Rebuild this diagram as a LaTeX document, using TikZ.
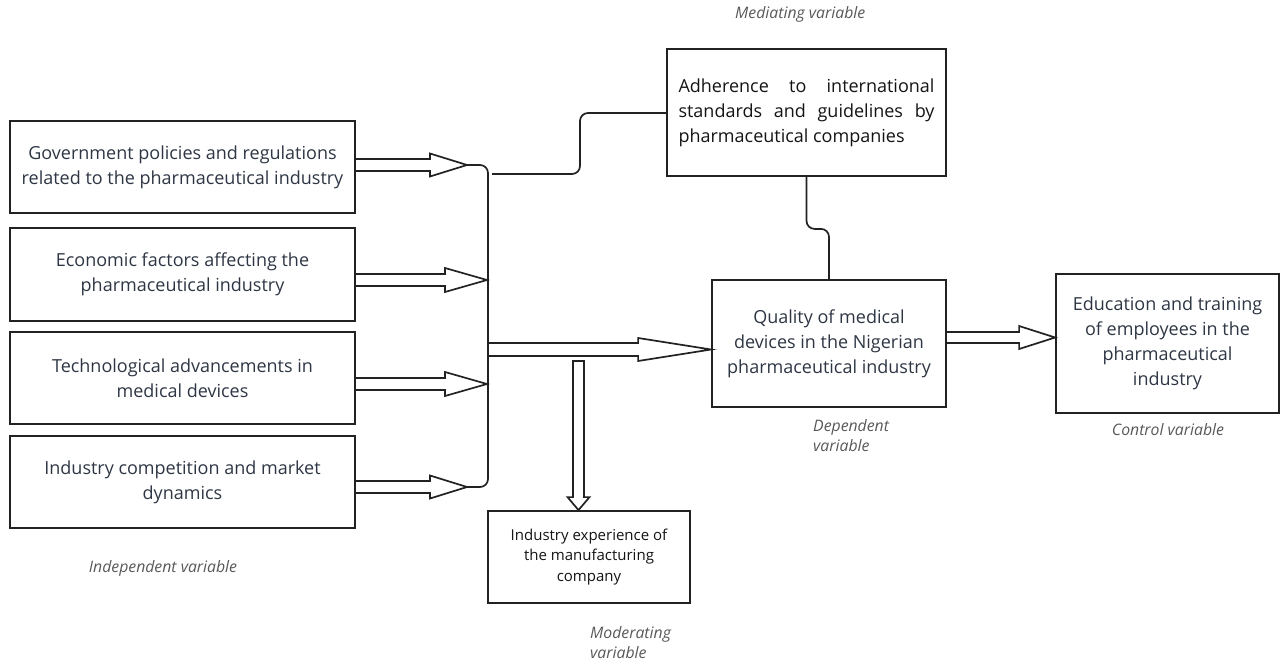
\documentclass[tikz,border=0pt]{standalone}
\usepackage{fontspec}
\setmainfont{Open Sans}
\usetikzlibrary{calc}
\definecolor{txt}{RGB}{46,54,68}
\definecolor{blk}{RGB}{20,20,20}
\definecolor{lbl}{RGB}{88,88,88}
\definecolor{ln}{RGB}{34,34,34}
\newcommand\harrow[5]{%
  \draw[arrline] let \p1=(#1), \p2=(#2) in
    (\x1,\y1+#3) -- (\x2-#4,\y1+#3) -- (\x2-#4,\y1+#5) -- (\x2,\y1)
    -- (\x2-#4,\y1-#5) -- (\x2-#4,\y1-#3) -- (\x1,\y1-#3);}
\begin{document}
\begin{tikzpicture}[x=1pt,y=-1pt,
  box/.style={draw=ln,line width=1.8pt,inner sep=0pt,align=center,font=\fontsize{18}{25}\selectfont,text=txt},
  arrline/.style={draw=ln,line width=1.7pt,line join=miter},
  conn/.style={draw=ln,line width=1.7pt,rounded corners=8pt},
  lab/.style={font=\fontsize{15.8}{20.5}\selectfont\itshape,text=lbl,inner sep=0pt,align=left}]
\useasboundingbox (0,0) rectangle (1281,666);

\node[box,minimum width=345pt,minimum height=92pt] (g1) at (182.5,167) {Government policies and regulations\\related to the pharmaceutical industry};
\node[box,minimum width=345pt,minimum height=93pt] (g2) at (182.5,274.5) {Economic factors affecting the\\pharmaceutical industry};
\node[box,minimum width=345pt,minimum height=92pt] (g3) at (182.5,378) {Technological advancements in\\medical devices};
\node[box,minimum width=345pt,minimum height=92pt] (g4) at (182.5,482) {Industry competition and market\\dynamics};

\node[box,minimum width=279pt,minimum height=127pt,text=blk,align=justify,text width=256pt] (adh) at (806.5,112.5)
  {\hyphenpenalty=10000 Adherence to international\linebreak standards and guidelines by\linebreak pharmaceutical companies};
\node[box,minimum width=234pt,minimum height=127pt] (qual) at (829,343.5) {Quality of medical\\devices in the Nigerian\\pharmaceutical industry};
\node[box,minimum width=223pt,minimum height=139pt] (edu) at (1167.5,343.5) {Education and training\\of employees in the\\pharmaceutical\\industry};
\node[box,minimum width=202pt,minimum height=92pt,text=blk,font=\fontsize{15}{20.5}\selectfont] (exp) at (589,557) {Industry experience of\\the manufacturing\\company};

% labels
\node[lab,anchor=west] (lmed) at (735,14) {Mediating variable};
\node[lab,anchor=north west] (ldep) at (813,419) {Dependent\\variable};
\node[lab] (lctl) at (1168,430) {Control variable};
\node[lab] (lind) at (163,568) {Independent variable};
\node[lab,anchor=north west] (lmod) at (590,626) {Moderating\\variable};

% bus
\coordinate (bt) at (467,165);
\coordinate (bb) at (467,487);
\coordinate (busx) at (487,0);
\draw[conn] (bt) -- (488,165) -- (488,487) -- (bb);

% input arrows
\harrow{g1.east |- bt}{bt}{6pt}{37pt}{11.5pt}
\coordinate (s2) at ($(g2.east)+(0,5.5)$);
\coordinate (s3) at ($(g3.east)+(0,6)$);
\harrow{s2}{busx |- s2}{6pt}{42pt}{12pt}
\harrow{s3}{busx |- s3}{6pt}{42pt}{12pt}
\harrow{g4.east |- bb}{bb}{6pt}{37pt}{11.5pt}

% main arrow
\coordinate (ms) at (488,349.5);
\harrow{ms}{qual.west |- ms}{6.5pt}{73pt}{11.5pt}

% right arrow
\coordinate (rs) at ($(qual.east)+(0,-6)$);
\harrow{rs}{edu.west |- rs}{5.5pt}{36pt}{11.5pt}

% down arrow
\coordinate (ds) at (578.5,361);
\draw[arrline] let \p1=(ds), \p2=(exp.north -| ds) in
  (\x1+5.5pt,\y1) -- (\x1-5.5pt,\y1) -- (\x1-5.5pt,\y2+13pt) -- (\x1-11pt,\y2+13pt)
  -- (\x2,\y2) -- (\x1+11pt,\y2+13pt) -- (\x1+5.5pt,\y2+13pt) -- cycle;

% connectors to mediator
\coordinate (m1) at (492,174);
\draw[conn] (m1) -- (580,174) -- (580,113) -- (adh.west |- 0,113);
\draw[conn] (adh.south) -- ($(adh.south)+(0,52)$) -- ($(adh.south)+(22.5,52)$) -- ($(qual.north)$);
\end{tikzpicture}
\end{document}
